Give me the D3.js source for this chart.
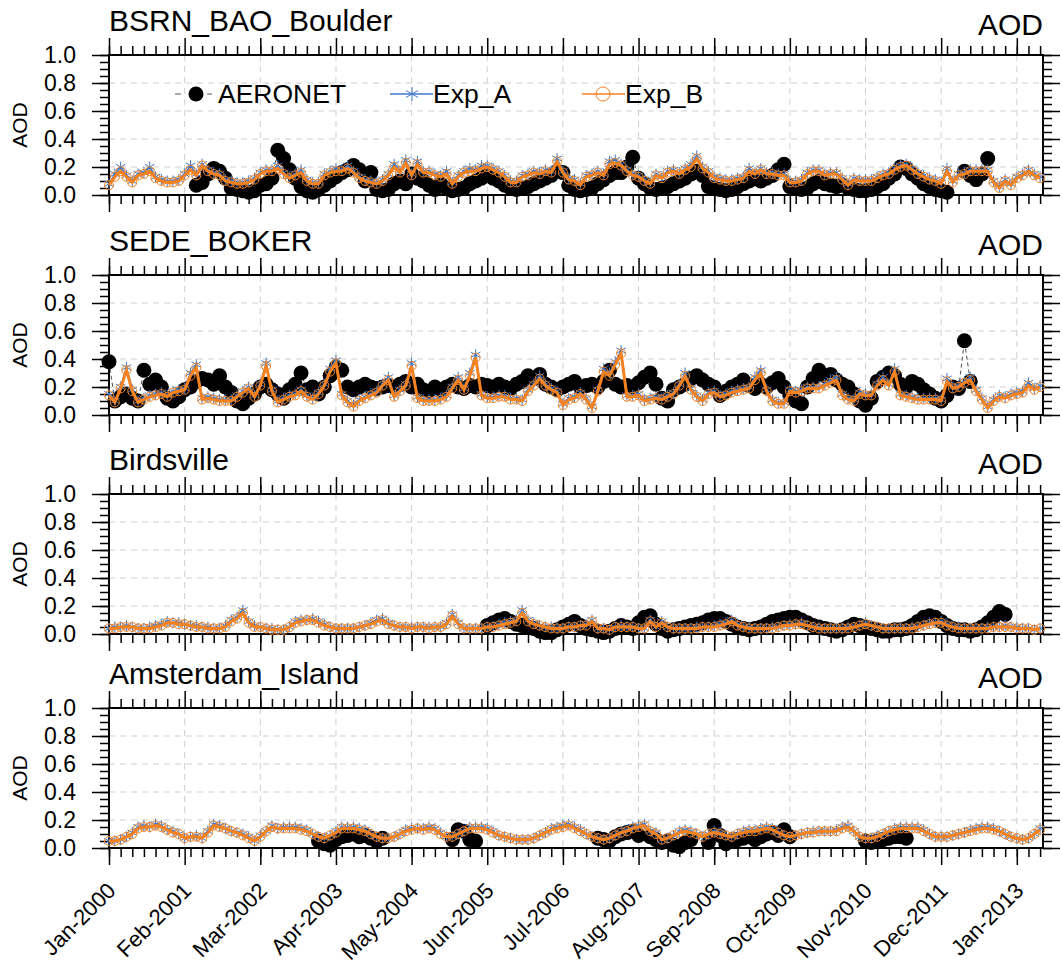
<!DOCTYPE html>
<meta charset="utf-8">
<script src="https://d3js.org/d3.v7.min.js"></script>
<style>
  body { margin: 0; background: #fff; }
  text { font-family: "Liberation Sans", Arial, Helvetica, sans-serif; fill: #000; }
</style>
<div id="my_dataviz"></div>
<script>

// station names, one panel each
var stations = ["BSRN_BAO_Boulder", "SEDE_BOKER", "Birdsville", "Amsterdam_Island"];
var seriesNames = ["AERONET", "Exp_A", "Exp_B"];
var tickLabels = ["Jan-2000", "Feb-2001", "Mar-2002", "Apr-2003", "May-2004", "Jun-2005",
                  "Jul-2006", "Aug-2007", "Sep-2008", "Oct-2009", "Nov-2010", "Dec-2011", "Jan-2013"];

// monthly AOD, Jan-2000 .. May-2013 (null = no AERONET data)
var boulderObs = [
  null,null,null,null,null,null,null,null,null,null,
  null,null,null,null,null,0.07,0.09,0.15,0.19,0.17,
  0.12,0.05,0.04,0.03,0.02,0.03,0.07,0.08,0.12,0.32,
  0.26,0.18,0.12,0.06,0.03,0.02,0.04,0.07,0.10,0.13,
  0.16,0.18,0.21,0.18,0.10,0.16,0.04,0.03,0.04,0.08,
  0.10,0.08,0.15,0.12,0.10,0.07,0.04,0.08,0.05,0.03,
  0.04,0.05,0.08,0.10,0.12,0.14,0.12,0.10,0.07,0.05,
  0.04,0.05,0.06,0.08,0.10,0.12,0.14,0.17,0.16,0.07,
  0.04,0.03,0.04,0.05,0.08,0.11,0.14,0.16,0.16,0.20,
  0.27,0.12,0.08,0.05,0.04,0.05,0.06,0.08,0.10,0.12,
  0.15,0.17,0.14,0.06,0.05,0.04,0.03,0.04,0.06,0.08,
  0.10,0.12,0.10,0.12,0.14,0.18,0.22,0.06,0.05,0.04,
  0.05,0.08,0.10,0.08,0.07,0.06,0.07,0.05,0.04,0.03,
  0.03,0.04,0.06,0.08,0.12,0.15,0.20,0.19,0.15,0.12,
  0.08,0.06,0.04,0.03,0.02,null,null,0.17,0.14,0.11,
  0.15,0.26,null,null,null,null,null,null,null,null,null];
var boulderExpA = [
  0.08,0.15,0.20,0.14,0.10,0.15,0.16,0.20,0.13,0.11,
  0.10,0.10,0.11,0.15,0.21,0.15,0.22,0.18,0.16,0.15,
  0.11,0.10,0.09,0.09,0.10,0.12,0.16,0.18,0.18,0.21,
  0.16,0.13,0.15,0.18,0.11,0.09,0.09,0.15,0.17,0.19,
  0.18,0.21,0.17,0.13,0.11,0.10,0.09,0.11,0.15,0.22,
  0.17,0.25,0.15,0.24,0.17,0.17,0.15,0.14,0.17,0.09,
  0.14,0.17,0.19,0.18,0.21,0.21,0.19,0.17,0.14,0.10,
  0.10,0.14,0.15,0.17,0.16,0.18,0.17,0.26,0.17,0.12,
  0.11,0.08,0.14,0.15,0.17,0.15,0.24,0.25,0.22,0.18,
  0.15,0.14,0.11,0.09,0.15,0.13,0.17,0.18,0.16,0.19,
  0.22,0.28,0.20,0.17,0.13,0.12,0.11,0.11,0.12,0.13,
  0.19,0.16,0.19,0.16,0.16,0.15,0.15,0.10,0.10,0.11,
  0.16,0.18,0.18,0.15,0.16,0.16,0.12,0.08,0.12,0.11,
  0.11,0.11,0.13,0.15,0.16,0.19,0.21,0.22,0.19,0.16,
  0.14,0.12,0.11,0.09,0.19,0.10,0.15,0.16,0.18,0.18,
  0.18,0.18,0.10,0.06,0.11,0.08,0.13,0.15,0.18,0.15,0.13];
var boulderExpB = [
  0.07,0.13,0.17,0.13,0.09,0.14,0.15,0.17,0.12,0.10,
  0.09,0.09,0.10,0.14,0.18,0.14,0.21,0.17,0.15,0.14,
  0.10,0.09,0.08,0.08,0.09,0.11,0.15,0.17,0.17,0.19,
  0.15,0.12,0.14,0.16,0.10,0.08,0.08,0.14,0.16,0.17,
  0.17,0.19,0.16,0.12,0.10,0.09,0.08,0.10,0.14,0.20,
  0.16,0.23,0.14,0.22,0.16,0.16,0.14,0.13,0.15,0.08,
  0.13,0.16,0.17,0.17,0.19,0.20,0.18,0.16,0.13,0.09,
  0.09,0.13,0.14,0.16,0.15,0.17,0.16,0.24,0.16,0.11,
  0.10,0.07,0.13,0.14,0.16,0.14,0.22,0.23,0.21,0.17,
  0.14,0.13,0.10,0.08,0.14,0.12,0.16,0.17,0.15,0.18,
  0.20,0.26,0.19,0.16,0.12,0.11,0.10,0.10,0.11,0.12,
  0.17,0.15,0.18,0.15,0.15,0.14,0.14,0.09,0.09,0.10,
  0.15,0.17,0.17,0.14,0.15,0.15,0.11,0.07,0.11,0.10,
  0.10,0.10,0.12,0.14,0.15,0.18,0.20,0.21,0.18,0.15,
  0.13,0.11,0.10,0.08,0.17,0.09,0.14,0.15,0.17,0.17,
  0.17,0.17,0.09,0.05,0.10,0.07,0.12,0.14,0.17,0.14,0.12];

var sedeObs = [
  0.38,0.10,0.13,0.15,0.12,0.10,0.32,0.22,0.25,0.20,
  0.12,0.10,0.13,0.18,0.20,0.24,0.26,0.25,0.22,0.28,
  0.20,0.16,0.10,0.08,0.12,0.15,0.20,0.22,0.18,0.15,
  0.12,0.18,0.22,0.30,0.18,0.20,0.15,0.20,0.28,0.34,
  0.32,0.20,0.18,0.20,0.22,0.20,0.19,0.20,0.21,0.20,
  0.22,0.24,0.20,0.22,0.18,0.17,0.20,0.18,0.20,0.22,
  0.20,0.19,0.21,0.20,0.22,0.21,0.20,0.22,0.20,0.19,
  0.22,0.24,0.28,0.26,0.29,0.22,0.20,0.18,0.20,0.22,
  0.24,0.20,0.21,0.22,0.20,0.24,0.32,0.22,0.20,0.21,
  0.20,0.23,0.27,0.30,0.22,0.12,0.10,0.18,0.20,0.22,
  0.26,0.28,0.25,0.22,0.20,0.14,0.17,0.20,0.22,0.25,
  0.21,0.19,0.22,0.20,0.23,0.26,0.20,0.14,0.10,0.08,
  0.20,0.26,0.32,0.28,0.29,0.25,0.22,0.20,0.15,0.10,
  0.07,0.12,0.24,0.27,0.30,0.28,0.22,0.20,0.24,0.22,
  0.18,0.15,0.12,0.10,0.14,0.20,0.19,0.53,0.24,null,
  null,null,null,null,null,null,null,null,null,null,null];
var sedeExpA = [
  0.15,0.10,0.20,0.34,0.18,0.10,0.12,0.14,0.15,0.16,
  0.14,0.17,0.18,0.19,0.30,0.36,0.12,0.13,0.12,0.11,
  0.11,0.11,0.14,0.17,0.20,0.14,0.22,0.37,0.18,0.10,
  0.12,0.14,0.15,0.18,0.14,0.12,0.16,0.22,0.33,0.39,
  0.15,0.10,0.07,0.11,0.13,0.15,0.17,0.22,0.27,0.14,
  0.18,0.22,0.37,0.13,0.11,0.11,0.11,0.12,0.14,0.20,
  0.27,0.19,0.30,0.43,0.15,0.13,0.13,0.14,0.14,0.12,
  0.12,0.11,0.18,0.22,0.28,0.22,0.19,0.17,0.08,0.12,
  0.13,0.16,0.12,0.06,0.18,0.33,0.30,0.38,0.46,0.14,
  0.14,0.15,0.11,0.12,0.13,0.12,0.14,0.16,0.22,0.30,
  0.19,0.14,0.11,0.16,0.17,0.14,0.15,0.17,0.18,0.19,
  0.20,0.27,0.32,0.18,0.11,0.09,0.09,0.18,0.17,0.18,
  0.20,0.20,0.20,0.22,0.25,0.27,0.15,0.12,0.11,0.16,
  0.15,0.15,0.22,0.27,0.22,0.33,0.15,0.14,0.13,0.12,
  0.12,0.12,0.12,0.11,0.26,0.20,0.21,0.24,0.27,0.18,
  0.12,0.06,0.11,0.14,0.13,0.15,0.16,0.17,0.23,0.19,0.21];
var sedeExpB = [
  0.14,0.09,0.19,0.32,0.17,0.09,0.11,0.13,0.14,0.15,
  0.13,0.16,0.17,0.18,0.28,0.34,0.11,0.12,0.11,0.10,
  0.10,0.10,0.13,0.16,0.19,0.13,0.21,0.35,0.17,0.09,
  0.11,0.13,0.14,0.17,0.13,0.11,0.15,0.21,0.31,0.37,
  0.14,0.09,0.06,0.10,0.12,0.14,0.16,0.21,0.25,0.13,
  0.17,0.21,0.35,0.12,0.10,0.10,0.10,0.11,0.13,0.19,
  0.25,0.18,0.28,0.41,0.14,0.12,0.12,0.13,0.13,0.11,
  0.11,0.10,0.17,0.21,0.26,0.21,0.18,0.16,0.07,0.11,
  0.12,0.15,0.11,0.05,0.17,0.31,0.28,0.36,0.44,0.13,
  0.13,0.14,0.10,0.11,0.12,0.11,0.13,0.15,0.21,0.28,
  0.18,0.13,0.10,0.15,0.16,0.13,0.14,0.16,0.17,0.18,
  0.19,0.25,0.30,0.17,0.10,0.08,0.08,0.17,0.16,0.17,
  0.19,0.19,0.19,0.21,0.23,0.25,0.14,0.11,0.10,0.15,
  0.14,0.14,0.21,0.25,0.21,0.31,0.14,0.13,0.12,0.11,
  0.11,0.11,0.11,0.10,0.24,0.19,0.20,0.23,0.25,0.17,
  0.11,0.05,0.10,0.13,0.12,0.14,0.15,0.16,0.21,0.18,0.20];

var birdsObs = [
  null,null,null,null,null,null,null,null,null,null,
  null,null,null,null,null,null,null,null,null,null,
  null,null,null,null,null,null,null,null,null,null,
  null,null,null,null,null,null,null,null,null,null,
  null,null,null,null,null,null,null,null,null,null,
  null,null,null,null,null,null,null,null,null,null,
  null,null,null,null,null,0.06,0.08,0.10,0.11,0.09,
  0.07,0.06,0.05,0.04,0.02,0.01,0.01,0.03,0.05,0.07,
  0.09,0.06,0.04,0.03,0.02,0.01,0.02,0.04,0.06,0.05,
  0.04,0.08,0.12,0.13,0.07,0.04,0.02,0.03,0.04,0.05,
  0.06,0.07,0.08,0.10,0.11,0.11,0.09,0.07,0.05,0.04,
  0.03,0.04,0.05,0.07,0.09,0.10,0.11,0.12,0.12,0.10,
  0.08,0.06,0.05,0.04,0.03,0.02,0.03,0.05,0.07,0.06,
  0.05,0.04,0.03,0.02,0.02,0.03,0.03,0.04,0.06,0.09,
  0.12,0.13,0.12,0.09,0.06,0.04,0.03,0.03,0.02,0.03,
  0.05,0.08,0.12,0.16,0.14,null,null,null,null,null,null];
var birdsExpA = [
  0.04,0.05,0.05,0.06,0.05,0.04,0.04,0.05,0.06,0.07,
  0.09,0.08,0.08,0.07,0.06,0.06,0.05,0.05,0.04,0.04,
  0.06,0.10,0.12,0.17,0.09,0.06,0.05,0.04,0.04,0.03,
  0.03,0.05,0.09,0.10,0.10,0.11,0.09,0.07,0.05,0.04,
  0.04,0.04,0.04,0.05,0.06,0.08,0.10,0.11,0.08,0.06,
  0.05,0.05,0.05,0.05,0.05,0.05,0.05,0.05,0.08,0.14,
  0.08,0.04,0.04,0.04,0.04,0.05,0.05,0.07,0.08,0.09,
  0.10,0.17,0.10,0.08,0.06,0.05,0.05,0.04,0.04,0.05,
  0.05,0.06,0.07,0.10,0.04,0.04,0.03,0.05,0.06,0.05,
  0.05,0.04,0.04,0.10,0.05,0.09,0.05,0.04,0.04,0.04,
  0.04,0.05,0.05,0.05,0.06,0.07,0.08,0.10,0.07,0.05,
  0.05,0.04,0.04,0.04,0.05,0.05,0.06,0.07,0.07,0.08,
  0.06,0.05,0.05,0.04,0.04,0.04,0.04,0.05,0.05,0.06,
  0.08,0.06,0.05,0.04,0.04,0.04,0.04,0.04,0.05,0.05,
  0.06,0.08,0.08,0.09,0.07,0.05,0.05,0.04,0.04,0.04,
  0.04,0.05,0.05,0.05,0.06,0.05,0.05,0.04,0.04,0.03,0.04];
var birdsExpB = [
  0.04,0.04,0.05,0.05,0.05,0.04,0.04,0.04,0.05,0.06,
  0.08,0.08,0.07,0.07,0.06,0.05,0.05,0.04,0.04,0.04,
  0.05,0.09,0.11,0.15,0.08,0.05,0.05,0.04,0.03,0.03,
  0.03,0.05,0.08,0.09,0.10,0.10,0.08,0.06,0.05,0.04,
  0.04,0.04,0.04,0.05,0.06,0.07,0.09,0.10,0.07,0.06,
  0.05,0.05,0.04,0.05,0.05,0.04,0.05,0.05,0.07,0.13,
  0.07,0.04,0.04,0.04,0.04,0.05,0.05,0.06,0.07,0.08,
  0.09,0.15,0.09,0.07,0.06,0.05,0.04,0.04,0.04,0.05,
  0.05,0.06,0.06,0.09,0.04,0.04,0.03,0.05,0.05,0.05,
  0.05,0.04,0.04,0.09,0.05,0.08,0.05,0.04,0.04,0.04,
  0.04,0.04,0.05,0.05,0.05,0.06,0.07,0.09,0.06,0.05,
  0.04,0.04,0.04,0.04,0.04,0.05,0.06,0.06,0.07,0.07,
  0.06,0.05,0.04,0.04,0.04,0.04,0.04,0.04,0.05,0.06,
  0.07,0.06,0.05,0.04,0.04,0.04,0.04,0.04,0.04,0.05,
  0.06,0.07,0.08,0.08,0.06,0.05,0.04,0.04,0.04,0.04,
  0.04,0.04,0.05,0.05,0.05,0.05,0.04,0.04,0.04,0.03,0.04];

var amsObs = [
  null,null,null,null,null,null,null,null,null,null,
  null,null,null,null,null,null,null,null,null,null,
  null,null,null,null,null,null,null,null,null,null,
  null,null,null,null,null,null,0.05,0.03,0.02,0.06,
  0.08,0.09,0.10,0.08,0.09,0.07,0.05,0.07,null,null,
  null,null,null,null,null,null,null,null,null,0.06,
  0.13,0.12,0.06,0.05,null,null,null,null,null,null,
  null,null,null,null,null,null,null,null,null,null,
  null,null,null,null,0.07,0.06,0.05,0.08,0.10,0.11,
  0.12,0.09,null,0.08,0.06,0.04,0.05,0.02,0.01,0.04,
  0.06,null,null,0.04,0.16,0.09,0.03,0.05,0.06,0.07,
  0.08,0.06,0.08,0.10,0.11,0.09,0.13,0.08,null,null,
  null,null,null,null,null,null,null,null,null,null,
  0.05,0.04,0.05,0.06,0.07,0.08,0.08,0.07,null,null,
  null,null,null,null,null,null,null,null,null,null,
  null,null,null,null,null,null,null,null,null,null,null];
var amsExpA = [
  0.05,0.05,0.06,0.08,0.11,0.15,0.16,0.15,0.17,0.16,
  0.13,0.12,0.10,0.07,0.08,0.09,0.07,0.12,0.17,0.16,
  0.14,0.12,0.11,0.10,0.08,0.05,0.09,0.12,0.16,0.14,
  0.15,0.15,0.15,0.14,0.13,0.10,0.08,0.07,0.09,0.12,
  0.15,0.15,0.15,0.14,0.13,0.10,0.08,0.07,0.07,0.08,
  0.10,0.13,0.14,0.14,0.14,0.15,0.14,0.11,0.08,0.08,
  0.10,0.12,0.15,0.15,0.15,0.14,0.12,0.09,0.08,0.07,
  0.06,0.06,0.06,0.07,0.09,0.11,0.14,0.15,0.16,0.17,
  0.15,0.13,0.10,0.08,0.07,0.06,0.07,0.09,0.11,0.13,
  0.15,0.16,0.17,0.12,0.11,0.06,0.07,0.09,0.12,0.13,
  0.12,0.10,0.08,0.10,0.12,0.11,0.09,0.08,0.10,0.12,
  0.13,0.13,0.14,0.15,0.14,0.11,0.09,0.08,0.09,0.10,
  0.11,0.12,0.12,0.12,0.12,0.13,0.15,0.16,0.12,0.08,
  0.07,0.07,0.09,0.10,0.12,0.14,0.15,0.15,0.15,0.15,
  0.13,0.10,0.08,0.08,0.08,0.09,0.10,0.11,0.13,0.14,
  0.15,0.15,0.14,0.12,0.10,0.08,0.07,0.06,0.07,0.10,0.14];
var amsExpB = [
  0.05,0.05,0.06,0.08,0.10,0.14,0.15,0.15,0.16,0.15,
  0.13,0.11,0.10,0.07,0.08,0.08,0.07,0.11,0.16,0.15,
  0.14,0.12,0.11,0.09,0.07,0.05,0.08,0.12,0.15,0.14,
  0.14,0.14,0.14,0.13,0.12,0.10,0.08,0.07,0.09,0.11,
  0.14,0.14,0.14,0.13,0.12,0.10,0.08,0.07,0.07,0.08,
  0.10,0.12,0.13,0.14,0.13,0.14,0.13,0.10,0.08,0.08,
  0.10,0.12,0.14,0.14,0.14,0.13,0.11,0.09,0.08,0.07,
  0.06,0.06,0.06,0.07,0.09,0.11,0.13,0.14,0.15,0.16,
  0.14,0.12,0.10,0.08,0.07,0.06,0.07,0.09,0.11,0.12,
  0.14,0.15,0.16,0.12,0.10,0.06,0.07,0.09,0.11,0.12,
  0.11,0.10,0.08,0.10,0.11,0.10,0.09,0.08,0.10,0.11,
  0.12,0.12,0.13,0.14,0.13,0.11,0.09,0.08,0.09,0.10,
  0.11,0.11,0.12,0.12,0.12,0.12,0.14,0.15,0.12,0.08,
  0.07,0.07,0.08,0.10,0.12,0.13,0.14,0.14,0.14,0.14,
  0.12,0.10,0.08,0.08,0.08,0.09,0.10,0.11,0.12,0.13,
  0.14,0.14,0.13,0.12,0.10,0.08,0.07,0.06,0.07,0.10,0.13];

var panels = [
  {name: stations[0], obs: boulderObs, expA: boulderExpA, expB: boulderExpB},
  {name: stations[1], obs: sedeObs,    expA: sedeExpA,    expB: sedeExpB},
  {name: stations[2], obs: birdsObs,   expA: birdsExpA,   expB: birdsExpB},
  {name: stations[3], obs: amsObs,     expA: amsExpA,     expB: amsExpB}
];

////////////////////// layout ////////////////////////////
var width = 1062, height = 968;
var left = 109, right = 1043, ph = 140;
var panelTop = [55, 275, 494, 708];
var blue = "#3f78c8", orange = "#f5821f";

var x = d3.scaleLinear().domain([0, 160.5]).range([left, right]);
var majorX = tickLabels.map(function(d, i) { return i * 13; });
var minorX = d3.range(0, 161, 2);

var svg = d3.select("#my_dataviz").append("svg")
  .attr("width", width).attr("height", height);

// asterisk marker for Exp_A
function star(r) {
  var p = "";
  for (var k = 0; k < 3; k++) {
    var a = Math.PI / 2 + k * Math.PI / 3;
    p += "M" + (-r * Math.cos(a)) + "," + (-r * Math.sin(a)) + "L" + (r * Math.cos(a)) + "," + (r * Math.sin(a));
  }
  return p;
}

panels.forEach(function(p, pi) {
  var top = panelTop[pi];
  var y = d3.scaleLinear().domain([0, 1]).range([top + ph, top]);
  var g = svg.append("g");

  // grid
  g.selectAll(".gx").data(majorX.slice(1)).enter().append("line")
    .attr("x1", function(d) { return x(d); }).attr("x2", function(d) { return x(d); })
    .attr("y1", top).attr("y2", top + ph)
    .attr("stroke", "#cfcfcf").attr("stroke-dasharray", "6,5").attr("stroke-width", 1);
  g.selectAll(".gy").data([0.2, 0.4, 0.6, 0.8]).enter().append("line")
    .attr("x1", left).attr("x2", right)
    .attr("y1", function(d) { return y(d); }).attr("y2", function(d) { return y(d); })
    .attr("stroke", "#cfcfcf").attr("stroke-dasharray", "6,5").attr("stroke-width", 1);

  // axes (ticks outward)
  var yMaj = [0, 0.2, 0.4, 0.6, 0.8, 1.0];
  var yMin = d3.range(0, 1.001, 0.05);
  function styleAxis(sel) {
    sel.select(".domain").remove();
    sel.selectAll("line").attr("stroke", "#000").attr("stroke-width", 1.5);
  }
  g.append("g").attr("transform", "translate(" + left + ",0)")
    .call(d3.axisLeft(y).tickValues(yMin).tickSize(9).tickFormat("")).call(styleAxis);
  g.append("g").attr("transform", "translate(" + left + ",0)")
    .call(d3.axisLeft(y).tickValues(yMaj).tickSize(17).tickPadding(16).tickFormat(d3.format(".1f")))
    .call(styleAxis)
    .selectAll("text").attr("font-size", 23).attr("font-family", "Liberation Sans, Arial, sans-serif");
  g.append("g").attr("transform", "translate(" + right + ",0)")
    .call(d3.axisRight(y).tickValues(yMin).tickSize(9).tickFormat("")).call(styleAxis);
  g.append("g").attr("transform", "translate(" + right + ",0)")
    .call(d3.axisRight(y).tickValues(yMaj).tickSize(17).tickFormat("")).call(styleAxis);
  g.append("g").attr("transform", "translate(0," + top + ")")
    .call(d3.axisTop(x).tickValues(minorX).tickSize(9).tickFormat("")).call(styleAxis);
  g.append("g").attr("transform", "translate(0," + top + ")")
    .call(d3.axisTop(x).tickValues(majorX).tickSize(17).tickFormat("")).call(styleAxis);
  g.append("g").attr("transform", "translate(0," + (top + ph) + ")")
    .call(d3.axisBottom(x).tickValues(minorX).tickSize(9).tickFormat("")).call(styleAxis);
  g.append("g").attr("transform", "translate(0," + (top + ph) + ")")
    .call(d3.axisBottom(x).tickValues(majorX).tickSize(17).tickFormat("")).call(styleAxis);

  // frame
  g.append("rect").attr("x", left).attr("y", top).attr("width", right - left).attr("height", ph)
    .attr("fill", "none").attr("stroke", "#000").attr("stroke-width", 2);

  // titles
  g.append("text").attr("x", left).attr("y", top - 24).attr("font-size", 30).text(p.name);
  g.append("text").attr("x", right).attr("y", top - 20).attr("font-size", 30)
    .attr("text-anchor", "end").text("AOD");
  g.append("text").attr("transform", "translate(27," + (top + ph / 2) + ") rotate(-90)")
    .attr("text-anchor", "middle").attr("font-size", 21).text("AOD");

  // AERONET
  var obs = p.obs.map(function(v, i) { return {m: i, v: v}; });
  var line = d3.line().defined(function(d) { return d.v != null; })
    .x(function(d) { return x(d.m); }).y(function(d) { return y(d.v); });
  g.append("path").datum(obs).attr("d", line)
    .attr("fill", "none").attr("stroke", "#222").attr("stroke-width", 0.8).attr("stroke-dasharray", "4,3");
  g.selectAll(".obs").data(obs.filter(function(d) { return d.v != null; })).enter().append("circle")
    .attr("cx", function(d) { return x(d.m); }).attr("cy", function(d) { return y(d.v); })
    .attr("r", 7.5).attr("fill", "#000");

  // Exp_A
  var ea = p.expA.map(function(v, i) { return {m: i, v: v}; });
  g.append("path").datum(ea).attr("d", line)
    .attr("fill", "none").attr("stroke", blue).attr("stroke-width", 1.6);
  g.selectAll(".ea").data(ea).enter().append("path")
    .attr("transform", function(d) { return "translate(" + x(d.m) + "," + y(d.v) + ")"; })
    .attr("d", star(5.5)).attr("stroke", blue).attr("stroke-width", 1).attr("fill", "none");

  // Exp_B
  var eb = p.expB.map(function(v, i) { return {m: i, v: v}; });
  g.append("path").datum(eb).attr("d", line)
    .attr("fill", "none").attr("stroke", orange).attr("stroke-width", 3);
  g.selectAll(".eb").data(eb).enter().append("circle")
    .attr("cx", function(d) { return x(d.m); }).attr("cy", function(d) { return y(d.v); })
    .attr("r", 4.5).attr("fill", "none").attr("stroke", orange).attr("stroke-width", 1);

  // legend on first panel only
  if (pi === 0) {
    var ly = 94;
    var lg = g.append("g");
    lg.append("line").attr("x1", 175).attr("x2", 212).attr("y1", ly).attr("y2", ly)
      .attr("stroke", "#555").attr("stroke-width", 1).attr("stroke-dasharray", "6,10");
    lg.append("circle").attr("cx", 196).attr("cy", ly).attr("r", 7.5).attr("fill", "#000");
    lg.append("text").attr("x", 218).attr("y", ly + 9).attr("font-size", 26.5).text(seriesNames[0]);

    lg.append("line").attr("x1", 390).attr("x2", 433).attr("y1", ly).attr("y2", ly)
      .attr("stroke", blue).attr("stroke-width", 1.6);
    lg.append("path").attr("transform", "translate(412," + ly + ")").attr("d", star(7))
      .attr("stroke", blue).attr("stroke-width", 1).attr("fill", "none");
    lg.append("text").attr("x", 433).attr("y", ly + 9).attr("font-size", 26.5).text(seriesNames[1]);

    lg.append("line").attr("x1", 582).attr("x2", 625).attr("y1", ly).attr("y2", ly)
      .attr("stroke", orange).attr("stroke-width", 1.6);
    lg.append("circle").attr("cx", 603).attr("cy", ly).attr("r", 7)
      .attr("fill", "none").attr("stroke", orange).attr("stroke-width", 1);
    lg.append("text").attr("x", 625).attr("y", ly + 9).attr("font-size", 26.5).text(seriesNames[2]);
  }

  // rotated time labels under the last panel
  if (pi === panels.length - 1) {
    g.selectAll(".xl").data(tickLabels).enter().append("text")
      .attr("transform", function(d, i) { return "translate(" + (x(majorX[i]) + 8) + "," + (top + ph + 44) + ") rotate(-45)"; })
      .attr("text-anchor", "end").attr("font-size", 22).text(function(d) { return d; });
  }
});

</script>
